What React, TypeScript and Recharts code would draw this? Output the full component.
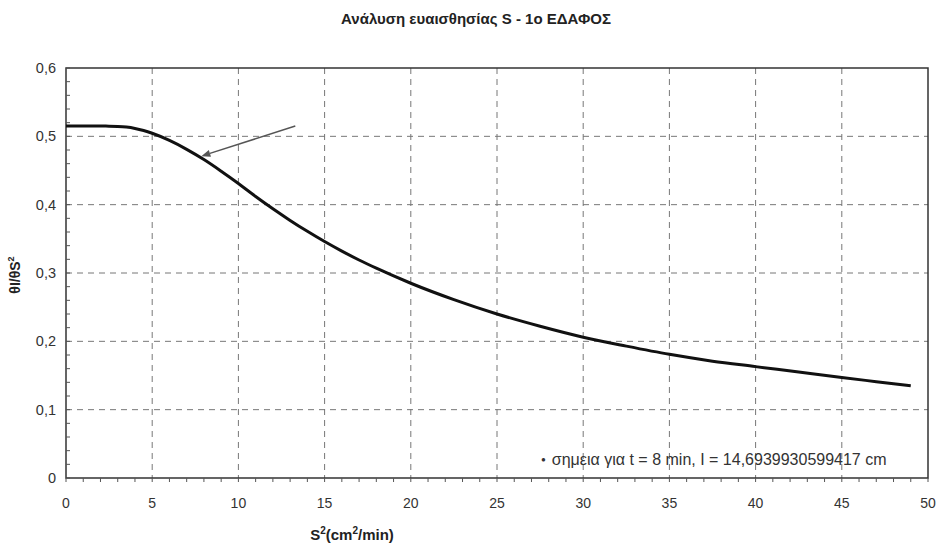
import React from "react"
import {
  LineChart,
  Line,
  XAxis,
  YAxis,
  CartesianGrid,
  ReferenceArea,
  ReferenceLine,
  Label,
} from "recharts"

const TITLE = "Ανάλυση ευαισθησίας S - 1ο ΕΔΑΦΟΣ"
const LEGEND_TEXT = "σημεια για t = 8 min, I = 14,6939930599417 cm"

// S² (cm²/min)
const sValues = [0, 1, 2, 2.5, 3, 3.5, 4, 4.5, 5, 6, 7, 8, 9, 10, 11, 12, 13, 14, 15, 16, 17, 18, 20, 22.5, 25, 27.5, 30, 32.5, 35, 37.5, 40, 42.5, 45, 47, 49]
// θI/θS²
const sensValues = [0.515, 0.515, 0.515, 0.5149, 0.5145, 0.5135, 0.5115, 0.5085, 0.5045, 0.494, 0.481, 0.466, 0.449, 0.431, 0.412, 0.394, 0.377, 0.361, 0.346, 0.332, 0.319, 0.307, 0.285, 0.261, 0.24, 0.222, 0.206, 0.193, 0.181, 0.171, 0.163, 0.155, 0.147, 0.141, 0.135]

const xMinor = Array.from({ length: 51 }, (_, i) => i)
const yMinor = Array.from({ length: 31 }, (_, i) => +(i * 0.02).toFixed(2))
const xGrid = [5, 10, 15, 20, 25, 30, 35, 40, 45]
const yGrid = [0.1, 0.2, 0.3, 0.4, 0.5]

// arrow pointing to the curve: [tail, head]
const arrowTail = { x: 13.3, y: 0.515 }
const arrowHead = { x: 7.85, y: 0.471 }

const data = sValues.map((x, i) => ({ x, y: sensValues[i] }))

const FONT = "Arial, 'Liberation Sans', sans-serif"
const TXT = "#333"

const isMajor = (v: number, step: number) =>
  Math.abs(v / step - Math.round(v / step)) < 1e-6

const fmt = (v: number) => (v === 0 ? "0" : String(+v.toFixed(1)).replace(".", ","))

function XTick({ x, y, payload }: any) {
  const v = payload.value
  const major = isMajor(v, 5)
  return (
    <g>
      <line x1={x} y1={y} x2={x} y2={y + 4} stroke="#555" strokeWidth={1} />
      {major && (
        <text x={x} y={y + 30} textAnchor="middle" fontSize={14} fill={TXT} fontFamily={FONT}>
          {v}
        </text>
      )}
    </g>
  )
}

function YTick({ x, y, payload }: any) {
  const v = payload.value
  const major = isMajor(v, 0.1)
  return (
    <g>
      <line x1={x} y1={y} x2={x + 4} y2={y} stroke="#555" strokeWidth={1} />
      {major && (
        <text x={x - 10} y={y + 5} textAnchor="end" fontSize={14.5} fill={TXT} fontFamily={FONT}>
          {fmt(v)}
        </text>
      )}
    </g>
  )
}

function ArrowShape(props: any) {
  const { x1, y1, x2, y2 } = props
  if ([x1, y1, x2, y2].some((v) => typeof v !== "number")) return null
  const ang = Math.atan2(y2 - y1, x2 - x1)
  const len = 9
  const w = 3.5
  const bx = x2 - len * Math.cos(ang)
  const by = y2 - len * Math.sin(ang)
  const px = -Math.sin(ang) * w
  const py = Math.cos(ang) * w
  return (
    <g>
      <line x1={x1} y1={y1} x2={bx} y2={by} stroke="#555" strokeWidth={1.5} />
      <polygon points={`${x2},${y2} ${bx + px},${by + py} ${bx - px},${by - py}`} fill="#555" />
    </g>
  )
}

export default function App() {
  return (
    <div style={{ position: "absolute", left: 0, top: 0, width: 938, height: 543, background: "#fff" }}>
      <div
        style={{
          position: "absolute",
          left: 0,
          width: 952,
          top: 10,
          textAlign: "center",
          fontFamily: FONT,
          fontWeight: "bold",
          fontSize: 15,
          color: "#222",
        }}
      >
        {TITLE}
      </div>
      <LineChart
        width={938}
        height={543}
        data={data}
        margin={{ top: 68, right: 10, bottom: 0, left: 6 }}
      >
        <CartesianGrid
          stroke="#777"
          strokeDasharray="6 5"
          verticalValues={xGrid}
          horizontalValues={yGrid}
        />
        <XAxis
          type="number"
          dataKey="x"
          domain={[0, 50]}
          ticks={xMinor}
          interval={0}
          tickSize={0}
          tickMargin={0}
          tickLine={false}
          axisLine={false}
          tick={<XTick />}
          height={65}
        >
          <Label
            content={() => (
              <text x={352} y={540} textAnchor="middle" fontFamily={FONT} fontWeight="bold" fontSize={15} fill="#222">
                S<tspan dy={-6} fontSize={10}>2</tspan>
                <tspan dy={6}>(cm</tspan>
                <tspan dy={-6} fontSize={10}>2</tspan>
                <tspan dy={6}>/min)</tspan>
              </text>
            )}
          />
        </XAxis>
        <YAxis
          type="number"
          domain={[0, 0.6]}
          ticks={yMinor}
          interval={0}
          tickSize={0}
          tickMargin={0}
          tickLine={false}
          axisLine={false}
          tick={<YTick />}
          width={60}
        >
          <Label
            content={() => (
              <text
                x={20}
                y={275}
                textAnchor="middle"
                transform="rotate(-90 20 275)"
                fontFamily={FONT}
                fontWeight="bold"
                fontSize={14}
                fill="#222"
              >
                θI/θS<tspan dy={-6} fontSize={9}>2</tspan>
              </text>
            )}
          />
        </YAxis>
        <ReferenceArea x1={0} x2={50} y1={0} y2={0.6} fill="none" stroke="#333" strokeWidth={1.5} ifOverflow="visible" />
        <ReferenceLine
          segment={[arrowTail, arrowHead]}
          shape={<ArrowShape />}
          ifOverflow="visible"
        />
        <Line
          type="monotone"
          dataKey="y"
          stroke="#111"
          strokeWidth={3}
          dot={false}
          isAnimationActive={false}
        />
      </LineChart>
      <div
        style={{
          position: "absolute",
          left: 541,
          top: 451,
          fontFamily: FONT,
          fontSize: 16,
          color: TXT,
          whiteSpace: "nowrap",
          background: "transparent",
        }}
      >
        <span style={{ marginRight: 6, fontSize: 8, verticalAlign: "3px" }}>●</span>
        {LEGEND_TEXT}
      </div>
    </div>
  )
}
